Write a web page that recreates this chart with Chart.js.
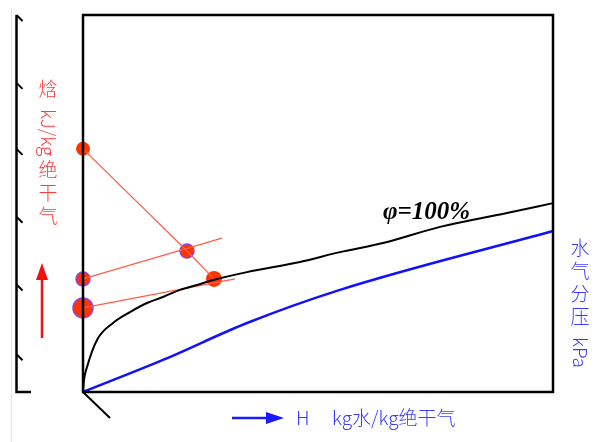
<!DOCTYPE html>
<html>
<head>
<meta charset="utf-8">
<script src="https://cdn.jsdelivr.net/npm/chart.js@4"></script>
<style>
  body { margin: 0; background: #fff; }
</style>
</head>
<body>
<canvas id="chart" width="601" height="442"></canvas>
<script>
// H (kg water / kg dry air) and enthalpy (relative units)
const satH = [0, 0.0001, 0.0004, 0.0014, 0.003, 0.0047, 0.0064, 0.008, 0.0097, 0.0114, 0.013, 0.0164, 0.0217, 0.0257, 0.03, 0.0357, 0.0424, 0.047];
const satI = [0, 3.2, 6.6, 13.8, 18.3, 21.2, 23.6, 25.2, 27.1, 28.4, 29.7, 31.8, 34.5, 37.1, 39.5, 43.8, 47.5, 50.1];

const vapH = [0, 0.008, 0.0164, 0.0257, 0.047];
const vapP = [0, 8.5, 18.3, 27.1, 42.7];

// construction lines
const lineA_H = [0, 0.0104, 0.0131];   // isenthalpic line through the mix point
const lineA_I = [64.5, 37.4, 30.0];
const lineB_H = [0, 0.0139];
const lineB_I = [30.0, 40.8];
const lineC_H = [0, 0.0152];
const lineC_I = [22.3, 30.0];

// marked state points
const ptH = [0, 0, 0, 0.0104, 0.0131];
const ptI = [22.3, 30.0, 64.5, 37.4, 30.0];
const ptR = [10, 7, 7, 7, 8];
const ptEdge = [true, true, false, true, false];

const enthalpyTicks = [10, 28.5, 46.5, 64.5, 82, 100];

function pairs(xs, ys) {
    return xs.map((x, i) => ({ x: x, y: ys[i] }));
}

const salmon = '#ff5e48';

const decor = {
    id: 'decor',
    afterDraw(chart) {
        const ctx = chart.ctx;
        const a = chart.chartArea;
        const ys = chart.scales.y;
        ctx.save();

        // frame
        ctx.strokeStyle = '#000';
        ctx.lineWidth = 2.5;
        ctx.strokeRect(a.left, a.top, a.right - a.left, a.bottom - a.top);

        // short diagonal at origin
        ctx.lineWidth = 2;
        ctx.beginPath();
        ctx.moveTo(a.left, a.bottom);
        ctx.lineTo(a.left + 27, a.bottom + 26);
        ctx.stroke();

        // faint guide line
        ctx.strokeStyle = '#e4f3a8';
        ctx.lineWidth = 1;
        ctx.beginPath();
        ctx.moveTo(11.5, 8);
        ctx.lineTo(11.5, 442);
        ctx.stroke();

        // enthalpy axis on the far left
        ctx.strokeStyle = '#000';
        ctx.lineWidth = 2.5;
        ctx.beginPath();
        ctx.moveTo(16.5, ys.getPixelForValue(100));
        ctx.lineTo(16.5, a.bottom);
        ctx.lineTo(31, a.bottom);
        ctx.stroke();
        ctx.lineWidth = 2;
        enthalpyTicks.forEach(t => {
            const y = ys.getPixelForValue(t);
            ctx.beginPath();
            ctx.moveTo(16.5, y);
            ctx.lineTo(22.5, y + 6);
            ctx.stroke();
        });

        // red arrow
        ctx.strokeStyle = '#f01010';
        ctx.fillStyle = '#f01010';
        ctx.lineWidth = 2.5;
        ctx.beginPath();
        ctx.moveTo(42, 338);
        ctx.lineTo(42, 276);
        ctx.stroke();
        ctx.beginPath();
        ctx.moveTo(42, 263);
        ctx.lineTo(36, 280);
        ctx.lineTo(48, 280);
        ctx.closePath();
        ctx.fill();

        // vertical labels
        function vText(parts, x, y, color) {
            ctx.fillStyle = color;
            ctx.font = '300 19px "Noto Sans CJK SC"';
            ctx.textAlign = 'center';
            ctx.textBaseline = 'middle';
            let cy = y;
            parts.forEach(p => {
                if (p.rot) {
                    const w = ctx.measureText(p.t).width;
                    ctx.save();
                    ctx.translate(x, cy + w / 2);
                    ctx.rotate(Math.PI / 2);
                    ctx.fillText(p.t, 0, 0);
                    ctx.restore();
                    cy += w + (p.gap || 0);
                } else {
                    for (const ch of p.t) {
                        ctx.fillText(ch, x, cy + 11);
                        cy += 23;
                    }
                    cy += (p.gap || 0);
                }
            });
        }
        vText([{ t: '焓', gap: 8 }, { t: 'kJ/kg', rot: true, gap: 3 }, { t: '绝干气' }], 48, 78, '#ff3a3a');
        vText([{ t: '水气分压', gap: 8 }, { t: 'kPa', rot: true }], 580, 237, '#3a3aff');

        // bottom label with arrow
        ctx.strokeStyle = '#1a1aff';
        ctx.fillStyle = '#1a1aff';
        ctx.lineWidth = 2.5;
        ctx.beginPath();
        ctx.moveTo(232, 418);
        ctx.lineTo(268, 418);
        ctx.stroke();
        ctx.beginPath();
        ctx.moveTo(284, 418);
        ctx.lineTo(266, 412);
        ctx.lineTo(266, 424);
        ctx.closePath();
        ctx.fill();
        ctx.fillStyle = '#3a3aff';
        ctx.font = '300 19px "Noto Sans CJK SC"';
        ctx.textAlign = 'left';
        ctx.textBaseline = 'alphabetic';
        ctx.fillText('H', 296, 425);
        ctx.fillText('kg水/kg绝干气', 332, 425);

        // saturation label
        ctx.fillStyle = '#000';
        ctx.font = 'italic bold 25px "Liberation Serif"';
        ctx.fillText('φ=100%', 383, 219);

        ctx.restore();
    }
};

new Chart(document.getElementById('chart'), {
    type: 'scatter',
    data: {
        datasets: [
            {
                label: 'φ=100%',
                data: pairs(satH, satI),
                showLine: true,
                borderColor: '#000',
                borderWidth: 2,
                pointRadius: 0,
                cubicInterpolationMode: 'monotone'
            },
            {
                label: '水气分压',
                data: pairs(vapH, vapP),
                showLine: true,
                borderColor: '#1010ff',
                borderWidth: 2.5,
                pointRadius: 0,
                cubicInterpolationMode: 'monotone'
            },
            {
                data: pairs(lineA_H, lineA_I),
                showLine: true,
                borderColor: salmon,
                borderWidth: 1.2,
                pointRadius: 0
            },
            {
                data: pairs(lineB_H, lineB_I),
                showLine: true,
                borderColor: salmon,
                borderWidth: 1.2,
                pointRadius: 0
            },
            {
                data: pairs(lineC_H, lineC_I),
                showLine: true,
                borderColor: salmon,
                borderWidth: 1.2,
                pointRadius: 0
            },
            {
                data: pairs(ptH, ptI),
                showLine: false,
                backgroundColor: '#ff3300',
                pointRadius: ptR,
                pointBorderWidth: ptEdge.map(e => e ? 1.5 : 0),
                pointBorderColor: ptEdge.map(e => e ? '#8a4be0' : '#ff3300')
            }
        ]
    },
    options: {
        responsive: false,
        animation: false,
        layout: { padding: { left: 83, top: 15, right: 48, bottom: 50 } },
        plugins: {
            legend: { display: false },
            tooltip: { enabled: false }
        },
        scales: {
            x: { type: 'linear', min: 0, max: 0.047, display: false },
            y: { type: 'linear', min: 0, max: 100, display: false }
        },
        clip: false
    },
    plugins: [decor]
});
</script>
</body>
</html>
